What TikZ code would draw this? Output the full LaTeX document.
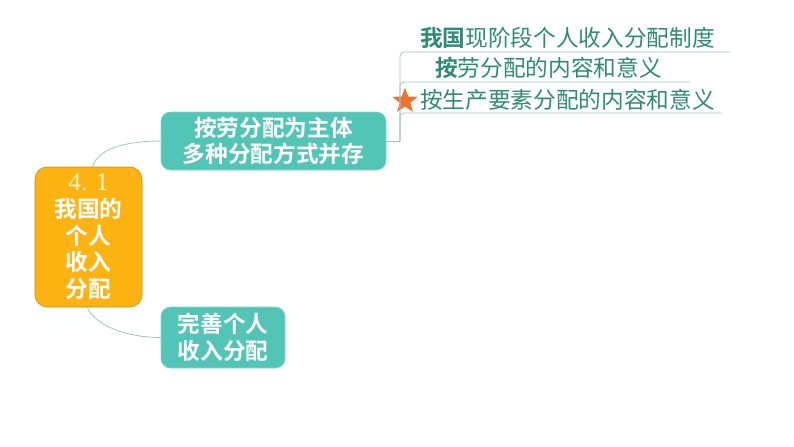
\documentclass[tikz,border=0pt]{standalone}
\usepackage{fontspec}
\setmainfont{Noto Sans CJK SC}[BoldFont={Noto Sans CJK SC Bold}]
\newfontfamily\numfont{Liberation Serif}
\usetikzlibrary{positioning}
\usetikzlibrary{shapes.geometric}
\definecolor{boxteal}{RGB}{82,197,183}
\definecolor{boxorange}{RGB}{253,180,18}
\definecolor{edgeorange}{RGB}{196,140,20}
\definecolor{textteal}{RGB}{46,139,118}
\definecolor{linkgrey}{RGB}{160,196,192}
\definecolor{starorange}{RGB}{240,112,48}
\definecolor{numcream}{RGB}{255,243,196}
\tikzset{
	topic/.style={draw=boxteal!70!white,fill=boxteal,rounded corners=7pt,text=white,align=center,
		font=\fontsize{17}{20}\selectfont\bfseries,inner sep=0pt},
	item/.style={anchor=west,inner sep=0pt,text=textteal,font=\fontsize{17}{20}\selectfont},
	link/.style={draw=linkgrey,line width=.6pt},
}
\begin{document}
\begin{tikzpicture}[x=.75pt,y=-.75pt]
	\useasboundingbox (0,0) rectangle (794,447);
	%% main topic
	\node[draw=edgeorange,fill=boxorange,rounded corners=9pt,text=white,align=center,inner sep=0pt,
		minimum width=80.25pt,minimum height=105pt,font=\fontsize{17}{20}\selectfont\bfseries] (main) at (88.5,237)
		{{\numfont\mdseries\fontsize{19}{20}\selectfont\color{numcream}4. 1}\\我国的\\个人\\收入\\分配};
	%% sub topics
	\node[topic,minimum width=168.75pt,minimum height=43.5pt] (lab) at (273.5,141) {按劳分配为主体\\多种分配方式并存};
	\node[topic,minimum width=93pt,minimum height=45.75pt] (perf) at (223,337.5) {完善个人\\收入分配};
	% curves to the sub topics
	\draw[link] ([xshift=3pt]main.north) .. controls +(5,-18) and +(-35,0) .. (lab.west);
	\draw[link] ([xshift=-1pt]main.south) .. controls +(8,18) and +(-35,0) .. (perf.west);
	%% items
	\node[item] (it1) at (420,37.5) {\textbf{我国}现阶段个人收入分配制度};
	\node[item] (it2) at (435,68) {\textbf{按}劳分配的内容和意义};
	\node[item] (it3) at (420,100) {按生产要素分配的内容和意义};
	\node[star,star points=5,star point ratio=2.4,fill=starorange,inner sep=0pt,minimum size=20pt] (star) at (405,101) {};
	\coordinate (fork) at (400,141);
	\coordinate (e1) at (730,52);
	\coordinate (e2) at (690,82);
	\coordinate (e3) at (722,113);
	% bracket and underlines
	\draw[link] (lab.east) -- (fork);
	\draw[link,rounded corners=3pt] (fork) |- (e1);
	\draw[link,rounded corners=3pt] (fork) |- (e2);
	\draw[link,rounded corners=3pt] (fork) |- (e3);
\end{tikzpicture}
\end{document}
